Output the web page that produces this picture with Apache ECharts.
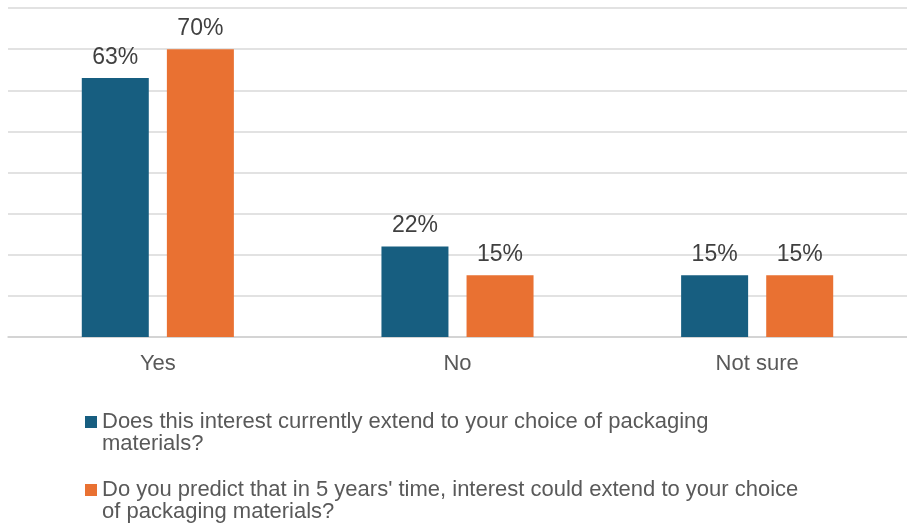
<!DOCTYPE html>
<html>
<head>
<meta charset="utf-8">
<script src="https://cdn.jsdelivr.net/npm/echarts@6/dist/echarts.min.js"></script>
<style>
  html, body { margin: 0; padding: 0; background: #fff; }
  #chart { width: 907px; height: 529px; }
</style>
</head>
<body>
<div id="chart"></div>
<script>
// Survey answers, in percent
const categories = ['Yes', 'No', 'Not sure'];
const seriesNames = [
  'Does this interest currently extend to your choice of packaging materials?',
  "Do you predict that in 5 years' time, interest could extend to your choice of packaging materials?"
];
const currentValues = [63, 22, 15];
const futureValues = [70, 15, 15];
const colors = ['#175E80', '#E97132'];

const FONT = 'Liberation Sans, Arial, sans-serif';

// Square marker aligned with the first line of a two-line legend entry
const legendIcon = 'path://M0,0L0.01,0M0,5H12V17H0ZM0,44L0.01,44';

const chart = echarts.init(document.getElementById('chart'));

const labelStyle = {
  show: true,
  position: 'top',
  distance: 9,
  formatter: '{c}%',
  fontFamily: FONT,
  fontSize: 23,
  color: '#404040'
};

chart.setOption({
  animation: false,
  grid: { left: 8, right: 0, top: 8, bottom: 192, containLabel: false },
  xAxis: {
    type: 'category',
    data: categories,
    axisTick: { show: false },
    axisLine: { lineStyle: { color: '#d0d0d0', width: 1.5 } },
    axisLabel: {
      margin: 16,
      fontFamily: FONT,
      fontSize: 22,
      color: '#595959'
    }
  },
  yAxis: {
    type: 'value',
    min: 0,
    max: 80,
    interval: 10,
    axisLabel: { show: false },
    axisLine: { show: false },
    axisTick: { show: false },
    splitLine: { lineStyle: { color: '#d9d9d9', width: 1.5 } }
  },
  legend: {
    orient: 'vertical',
    left: 80,
    top: 406,
    itemWidth: 12,
    itemHeight: 44,
    itemGap: 24,
    icon: legendIcon,
    data: [
      { name: seriesNames[0], textStyle: { width: 650 } },
      { name: seriesNames[1], textStyle: { width: 710 } }
    ],
    textStyle: {
      fontFamily: FONT,
      fontSize: 22,
      color: '#595959',
      lineHeight: 22,
      overflow: 'break'
    }
  },
  series: [
    {
      name: seriesNames[0],
      type: 'bar',
      data: currentValues,
      barWidth: 67,
      barGap: '27%',
      itemStyle: { color: colors[0] },
      label: labelStyle
    },
    {
      name: seriesNames[1],
      type: 'bar',
      data: futureValues,
      barWidth: 67,
      itemStyle: { color: colors[1] },
      label: labelStyle
    }
  ]
});
</script>
</body>
</html>
